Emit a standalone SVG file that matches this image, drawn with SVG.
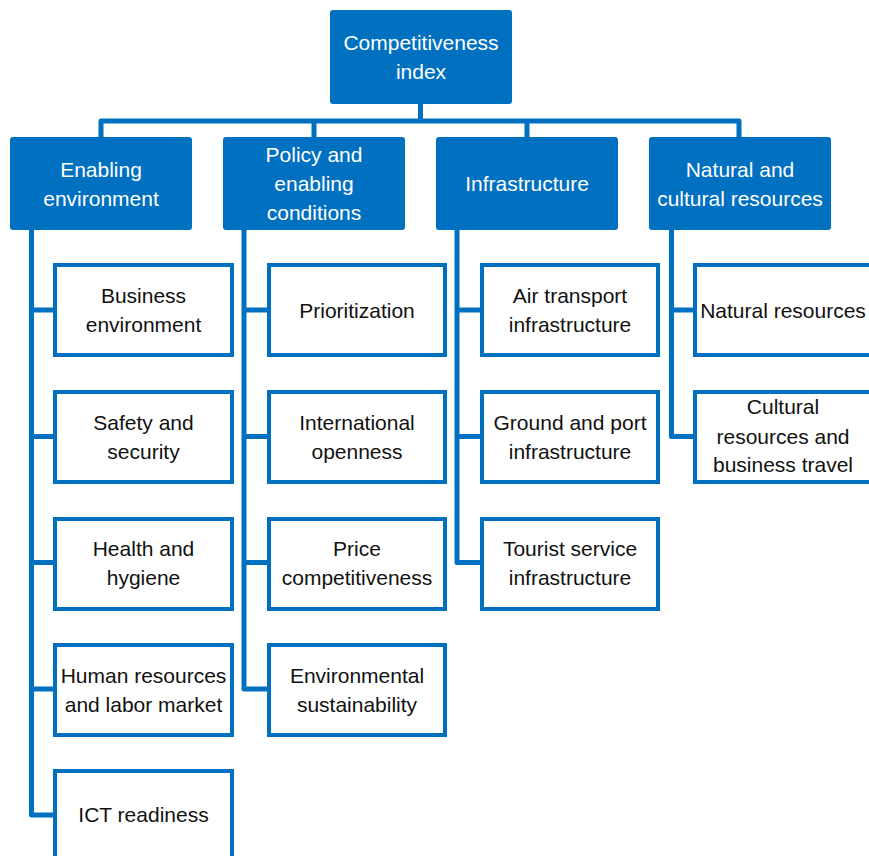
<svg xmlns="http://www.w3.org/2000/svg" width="869" height="856" viewBox="0 0 869 856">
<style>
.hdr{fill:#0070C0;}
.box{fill:#fff;stroke:#0070C0;stroke-width:4;}
.ln{fill:none;stroke:#0070C0;stroke-width:5;stroke-linejoin:round;}
text{font-family:"Liberation Sans",Arial,sans-serif;font-size:21px;text-anchor:middle;}
.w{fill:#fff;}
.k{fill:#111;}
</style>
<rect width="869" height="856" fill="#fff"/>
<g id="connectors">
<path class="ln" d="M420.5,104 V121"/>
<path class="ln" d="M101,137 V121 H739 V137"/>
<path class="ln" d="M314,121 V137"/>
<path class="ln" d="M527,121 V137"/>
<path class="ln" d="M31.5,230 V815 H55"/>
<path class="ln" d="M31.5,310 H55 M31.5,436.5 H55 M31.5,562.5 H55 M31.5,689 H55"/>
<path class="ln" d="M244,230 V689 H269"/>
<path class="ln" d="M244,310 H269 M244,436.5 H269 M244,562.5 H269"/>
<path class="ln" d="M457,230 V562.5 H482"/>
<path class="ln" d="M457,310 H482 M457,436.5 H482"/>
<path class="ln" d="M671.5,230 V436.5 H695"/>
<path class="ln" d="M671.5,310 H695"/>
</g>
<g id="root"><rect class="hdr" x="330" y="10" width="182" height="94" rx="3"/><text class="w" x="421" y="50">Competitiveness</text><text class="w" x="421" y="79">index</text></g>
<g id="enabling"><rect class="hdr" x="10" y="137" width="182" height="93" rx="3"/><text class="w" x="101" y="177">Enabling</text><text class="w" x="101" y="206">environment</text></g>
<g id="policy"><rect class="hdr" x="223" y="137" width="182" height="93" rx="3"/><text class="w" x="314" y="162">Policy and</text><text class="w" x="314" y="191">enabling</text><text class="w" x="314" y="220">conditions</text></g>
<g id="infra"><rect class="hdr" x="436" y="137" width="182" height="93" rx="3"/><text class="w" x="527" y="191">Infrastructure</text></g>
<g id="natural"><rect class="hdr" x="649" y="137" width="182" height="93" rx="3"/><text class="w" x="740" y="177">Natural and</text><text class="w" x="740" y="206">cultural resources</text></g>

<g id="business"><rect class="box" x="55" y="265" width="177" height="90"/><text class="k" x="143.5" y="303">Business</text><text class="k" x="143.5" y="332">environment</text></g>
<g id="safety"><rect class="box" x="55" y="392" width="177" height="90"/><text class="k" x="143.5" y="430">Safety and</text><text class="k" x="143.5" y="459">security</text></g>
<g id="health"><rect class="box" x="55" y="519" width="177" height="90"/><text class="k" x="143.5" y="556">Health and</text><text class="k" x="143.5" y="585">hygiene</text></g>
<g id="human"><rect class="box" x="55" y="645" width="177" height="90"/><text class="k" x="143.5" y="683">Human resources</text><text class="k" x="143.5" y="712">and labor market</text></g>
<g id="ict"><rect class="box" x="55" y="771" width="177" height="100"/><text class="k" x="143.5" y="822">ICT readiness</text></g>

<g id="prior"><rect class="box" x="269" y="265" width="176" height="90"/><text class="k" x="357" y="318">Prioritization</text></g>
<g id="intl"><rect class="box" x="269" y="392" width="176" height="90"/><text class="k" x="357" y="430">International</text><text class="k" x="357" y="459">openness</text></g>
<g id="price"><rect class="box" x="269" y="519" width="176" height="90"/><text class="k" x="357" y="556">Price</text><text class="k" x="357" y="585">competitiveness</text></g>
<g id="envsus"><rect class="box" x="269" y="645" width="176" height="90"/><text class="k" x="357" y="683">Environmental</text><text class="k" x="357" y="712">sustainability</text></g>

<g id="air"><rect class="box" x="482" y="265" width="176" height="90"/><text class="k" x="570" y="303">Air transport</text><text class="k" x="570" y="332">infrastructure</text></g>
<g id="ground"><rect class="box" x="482" y="392" width="176" height="90"/><text class="k" x="570" y="430">Ground and port</text><text class="k" x="570" y="459">infrastructure</text></g>
<g id="tourist"><rect class="box" x="482" y="519" width="176" height="90"/><text class="k" x="570" y="556">Tourist service</text><text class="k" x="570" y="585">infrastructure</text></g>

<g id="natres"><rect class="box" x="695" y="265" width="190" height="90"/><text class="k" x="783" y="318">Natural resources</text></g>
<g id="cultural"><rect class="box" x="695" y="392" width="190" height="90"/><text class="k" x="783" y="414">Cultural</text><text class="k" x="783" y="444">resources and</text><text class="k" x="783" y="472">business travel</text></g>
</svg>
